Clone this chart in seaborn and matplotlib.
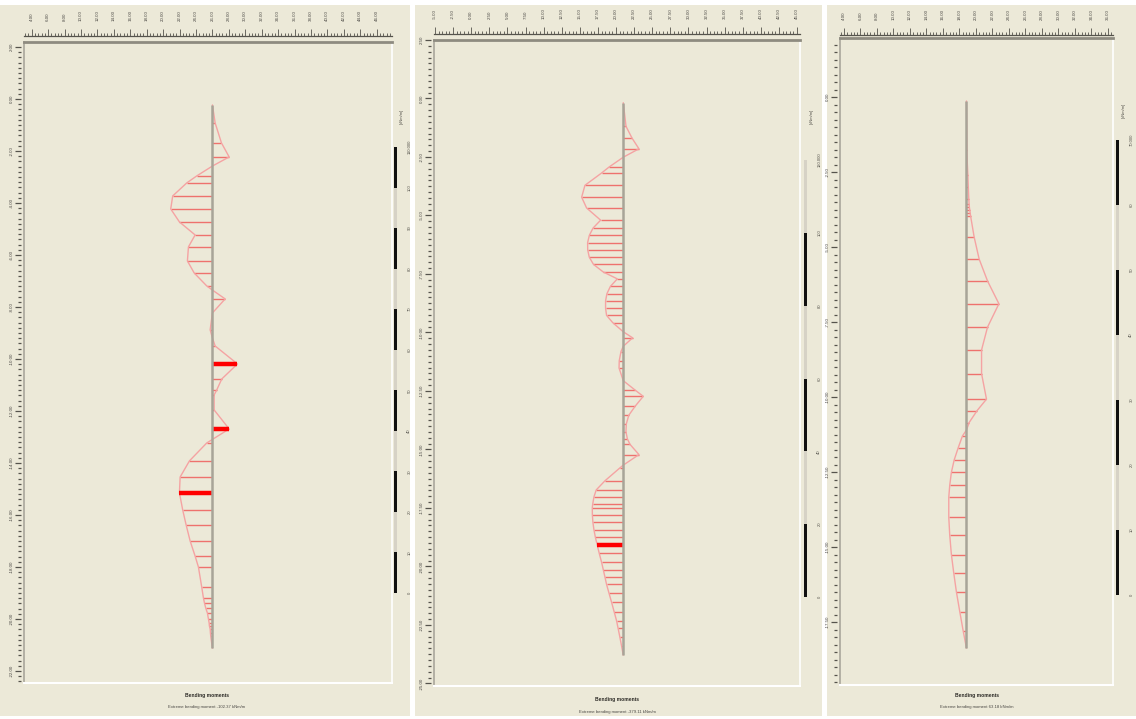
import numpy as np
import pandas as pd
import matplotlib
matplotlib.use("Agg")
import matplotlib.pyplot as plt
from matplotlib.patches import Rectangle
from matplotlib.ticker import MultipleLocator, FixedLocator
import seaborn as sns

# ---------------------------------------------------------------- data
# Phase 1: node elevations along the wall [m] and bending moments [kNm/m]
elev_1 = [-0.23, -0.92, -1.69, -2.23, -2.58, -2.96, -3.23, -3.73, -4.23, -4.73,
          -5.23, -5.69, -6.23, -6.69, -7.19, -7.35, -7.69, -8.23, -8.88, -9.19,
          -9.50, -10.19, -10.77, -11.19, -11.38, -11.96, -12.69, -13.23, -13.92, -14.54,
          -15.15, -15.81, -16.38, -17.00, -17.58, -18.00, -18.77, -19.19, -19.38, -19.58,
          -19.77, -20.00, -20.15, -20.27, -20.38, -20.54, -20.65, -20.77, -21.12]
moment_1 = [0, 6.6, 22.1, 41.0, 0, -38.5, -63.1, -97.5, -102.37, -81.0,
            -42.5, -58.9, -61.4, -44.9, -14.0, 0, 31.2, 0, -5.6, 0,
            6.6, 61.4, 22.8, 10.6, 4.2, 4.2, 41.0, -14.0, -56.5, -79.3,
            -81.0, -72.9, -64.6, -54.7, -42.5, -34.4, -26.3, -22.1, -19.6, -16.4,
            -12.3, -9.8, -8.1, -7.4, -5.6, -4.9, -4.2, -3.2, 0]
anchor_nodes_1 = [21, 26, 30]
extreme_1 = -102.37

# Phase 2
elev_2 = [-0.18, -1.19, -1.69, -2.15, -2.51, -2.93, -3.18, -3.71, -4.22, -4.68,
          -5.20, -5.54, -5.85, -6.16, -6.47, -6.78, -7.09, -7.41, -7.71, -8.03,
          -8.34, -8.65, -8.96, -9.27, -9.58, -9.97, -10.23, -10.59, -10.82, -11.21,
          -11.52, -12.06, -12.45, -12.73, -13.15, -13.54, -13.90, -14.24, -14.55, -14.78,
          -15.22, -15.67, -15.79, -16.34, -16.73, -17.03, -17.35, -17.50, -17.81, -18.12,
          -18.43, -18.74, -19.09, -19.44, -19.83, -20.14, -20.45, -20.77, -21.15, -21.54,
          -21.93, -22.32, -22.63, -23.02, -23.41, -23.79]
moment_2 = [0, 25.1, 79.3, 142.8, 0, -129.4, -196.2, -349.0, -379.11, -334.0,
            -206.2, -275.6, -309.0, -324.8, -324.0, -309.8, -271.4, -183.7, -54.3, -116.9,
            -148.6, -161.2, -161.2, -152.0, -96.0, 0, 85.2, 0, -20.9, -36.7,
            -38.4, 0, 104.4, 182.0, 108.6, 50.1, 28.4, 24.2, 37.6, 61.0,
            142.8, 0, -30.9, -167.0, -246.3, -267.2, -278.9, -282.2, -281.4, -276.4,
            -267.2, -254.7, -237.1, -218.8, -197.1, -182.0, -167.0, -152.0, -129.4, -106.0,
            -83.5, -61.0, -47.6, -30.9, -15.0, 0]
anchor_nodes_2 = [52]
extreme_2 = -379.11

# Phase 3
elev_3 = [-0.13, -1.77, -2.19, -2.61, -3.01, -3.40, -3.58, -3.67, -3.77, -3.86,
          -3.95, -4.67, -5.40, -6.13, -6.89, -7.67, -8.43, -9.22, -10.07, -10.45,
          -10.85, -11.10, -11.30, -11.70, -12.10, -12.51, -12.94, -13.34, -14.00, -14.61,
          -15.25, -15.88, -16.51, -17.15, -17.80, -18.37]
moment_3 = [0, 0.9, 1.6, 2.7, 3.6, 4.5, 5.2, 5.7, 6.4, 7.2,
            7.9, 15.0, 24.7, 41.0, 63.18, 41.0, 29.4, 29.4, 39.0, 20.8,
            5.2, 0, -7.9, -16.3, -24.0, -29.4, -32.6, -34.5, -34.5, -32.6,
            -29.4, -24.7, -19.5, -13.1, -6.4, 0]
anchor_nodes_3 = []
extreme_3 = 63.18

# ruler tick values
top_ticks_1 = [4 + 2 * i for i in range(22)]
top_ticks_2 = [-5 + 2.5 * i for i in range(21)]
top_ticks_3 = [4 + 2 * i for i in range(17)]
left_ticks_1 = [2 - 2 * i for i in range(13)]
left_ticks_2 = [2.5 - 2.5 * i for i in range(12)]
left_ticks_3 = [0 - 2.5 * i for i in range(8)]

# diagram scale bars [kNm/m]
scale_ticks_1 = [10 * i for i in range(12)]
scale_ticks_2 = [20 * i for i in range(7)]
scale_ticks_3 = [10 * i for i in range(8)]

title_text = "Bending moments"
unit_text = "[kNm/m]"

# ---------------------------------------------------------------- style
W, H, DPI = 1136, 719, 100
BEIGE = "#ECE9D8"
RULER = "#55534C"
sns.set_theme(style="white", rc={"figure.facecolor": "white"})
plt.rcParams["font.family"] = ["Liberation Sans", "DejaVu Sans"]

fig = plt.figure(figsize=(W / DPI, H / DPI), dpi=DPI)


def px_axes(x0, y0, x1, y1, **kw):
    return fig.add_axes([x0 / W, 1 - y1 / H, (x1 - x0) / W, (y1 - y0) / H], **kw)


def fx(x):
    return x / W


def fy(y):
    return 1 - y / H


panels = [
    dict(elev=elev_1, moment=moment_1, anchors=anchor_nodes_1, extreme=extreme_1,
         wall=26.0, k=0.0496, bg=(0, 5, 410, 716), plot=(24, 42, 392, 683),
         xlim=(3.06, 47.86), ylim=(-22.46, 2.19),
         ruler=(24, 26, 392, 36), xticks=top_ticks_1, xminor=0.4,
         lruler=(15, 42, 21, 683), yticks=left_ticks_1, yminor=0.2,
         sbar=(394, 147, 397, 593), sticks=scale_ticks_1, unit_xy=(402, 116),
         tx=207, ty=(695, 707)),
    dict(elev=elev_2, moment=moment_2, anchors=anchor_nodes_2, extreme=extreme_2,
         wall=21.0, k=0.01516, bg=(415, 5, 822, 716), plot=(434, 40, 800, 686),
         xlim=(-5.14, 45.41), ylim=(-25.11, 2.50),
         ruler=(434, 24, 800, 34), xticks=top_ticks_2, xminor=0.5,
         lruler=(425, 40, 431, 686), yticks=left_ticks_2, yminor=0.25,
         sbar=(804, 160, 807, 597), sticks=scale_ticks_2, unit_xy=(812, 116),
         tx=617, ty=(700, 712)),
    dict(elev=elev_3, moment=moment_3, anchors=anchor_nodes_3, extreme=extreme_3,
         wall=18.85, k=0.0622, bg=(827, 5, 1136, 716), plot=(840, 38, 1113, 685),
         xlim=(3.52, 36.61), ylim=(-19.60, 1.97),
         ruler=(840, 25, 1113, 35), xticks=top_ticks_3, xminor=0.4,
         lruler=(831, 38, 837, 685), yticks=left_ticks_3, yminor=0.25,
         sbar=(1116, 140, 1119, 595), sticks=scale_ticks_3, unit_xy=(1124, 110),
         tx=977, ty=(695, 707)),
]

for p in panels:
    # panel background
    x0, y0, x1, y1 = p["bg"]
    fig.add_artist(Rectangle((fx(x0), fy(y1)), (x1 - x0) / W, (y1 - y0) / H,
                             transform=fig.transFigure, facecolor=BEIGE,
                             edgecolor="none", zorder=-10))

    # drawing area with sunken border
    ax = px_axes(*p["plot"])
    ax.set_facecolor(BEIGE)
    ax.set_xlim(*p["xlim"])
    ax.set_ylim(*p["ylim"])
    ax.set_xticks([])
    ax.set_yticks([])
    for side, col, lw in [("top", "#8E8B80", 2.0), ("left", "#A9A69B", 1.2),
                          ("right", "#FFFFFF", 1.2), ("bottom", "#FFFFFF", 1.5)]:
        ax.spines[side].set_visible(True)
        ax.spines[side].set_color(col)
        ax.spines[side].set_linewidth(lw)

    elev = np.asarray(p["elev"])
    mom = np.asarray(p["moment"])
    xs = p["wall"] + mom * p["k"]

    # hatching from the wall to the diagram at every node
    ax.hlines(elev, p["wall"], xs, colors="#F04A4A", linewidth=1.0, alpha=0.75, zorder=2)
    # outline of the moment diagram
    df = pd.DataFrame({"x": xs, "elev": elev})
    sns.lineplot(data=df, x="x", y="elev", sort=False, estimator=None, ax=ax,
                 color="#F5A3A3", linewidth=1.0, zorder=3, legend=False)
    # emphasised nodes
    for i in p["anchors"]:
        ax.hlines(elev[i], p["wall"], xs[i], colors="#FF0000", linewidth=3.2, zorder=4)
    # wall axis
    ax.plot([p["wall"], p["wall"]], [elev[0], elev[-1]], color="#A8A498",
            linewidth=1.8, zorder=5, solid_capstyle="butt")
    ax.set_xlabel("")
    ax.set_ylabel("")

    # top ruler
    axr = px_axes(*p["ruler"])
    axr.set_facecolor("none")
    axr.set_xlim(*p["xlim"])
    axr.set_ylim(0, 1)
    axr.set_yticks([])
    for side in ["top", "left", "right"]:
        axr.spines[side].set_visible(False)
    axr.spines["bottom"].set_visible(True)
    axr.spines["bottom"].set_color(RULER)
    axr.spines["bottom"].set_linewidth(0.9)
    axr.xaxis.set_major_locator(FixedLocator(p["xticks"]))
    axr.xaxis.set_minor_locator(MultipleLocator(p["xminor"]))
    axr.set_xticklabels([f"{v:.2f}" for v in p["xticks"]])
    axr.tick_params(axis="x", which="both", direction="in", bottom=True, top=False,
                    labelbottom=False, labeltop=True, color=RULER, width=0.6)
    axr.tick_params(axis="x", which="major", length=5, pad=3.5,
                    labelsize=3.2, labelcolor="#4A4844", labelrotation=90)
    axr.tick_params(axis="x", which="minor", length=2)

    # left ruler
    axl = px_axes(*p["lruler"])
    axl.set_facecolor("none")
    axl.set_ylim(*p["ylim"])
    axl.set_xlim(0, 1)
    axl.set_xticks([])
    for side in axl.spines:
        axl.spines[side].set_visible(False)
    axl.yaxis.set_major_locator(FixedLocator(p["yticks"]))
    axl.yaxis.set_minor_locator(MultipleLocator(p["yminor"]))
    axl.set_yticklabels([f"{v:.2f}" for v in p["yticks"]])
    axl.tick_params(axis="y", which="both", direction="in", left=False, right=True,
                    labelleft=True, labelright=False, color=RULER, width=0.9)
    axl.tick_params(axis="y", which="major", length=4.5, pad=1,
                    labelsize=3.2, labelcolor="#4A4844", labelrotation=90)
    axl.tick_params(axis="y", which="minor", length=2)
    for lab in axl.get_yticklabels():
        lab.set_verticalalignment("center")

    # scale bar of the diagram
    axs = px_axes(*p["sbar"])
    axs.set_facecolor("none")
    st = p["sticks"]
    axs.set_ylim(st[0], st[-1])
    axs.set_xlim(0, 1)
    axs.set_xticks([])
    for side in axs.spines:
        axs.spines[side].set_visible(False)
    seg_cols = ["#111111" if i % 2 == 0 else "#D6D2C6" for i in range(len(st) - 1)]
    axs.vlines([0.5] * (len(st) - 1), st[:-1], st[1:], colors=seg_cols, linewidth=3.0)
    axs.set_yticks(st)
    labels = [f"{v:.0f}" for v in st]
    labels[-1] = f"{st[-1]:.3f}"
    axs.set_yticklabels(labels)
    axs.tick_params(axis="y", left=False, right=False, labelleft=False, labelright=True,
                    pad=1.5, labelsize=3.0, labelcolor="#55534C", labelrotation=90)
    for lab in axs.get_yticklabels():
        lab.set_verticalalignment("center")
    ux, uy = p["unit_xy"]
    fig.text(fx(ux), fy(uy), unit_text, rotation=90, fontsize=3.0, color="#55534C",
             ha="center", va="center")

    # captions
    fig.text(fx(p["tx"]), fy(p["ty"][0]), title_text, fontsize=3.6, fontweight="bold",
             color="#2E2C28", ha="center", va="center")
    fig.text(fx(p["tx"]), fy(p["ty"][1]),
             f"Extreme bending moment {p['extreme']:.2f} kNm/m",
             fontsize=3.1, color="#4A4844", ha="center", va="center")

fig.savefig("out.png", dpi=DPI, facecolor="white")
